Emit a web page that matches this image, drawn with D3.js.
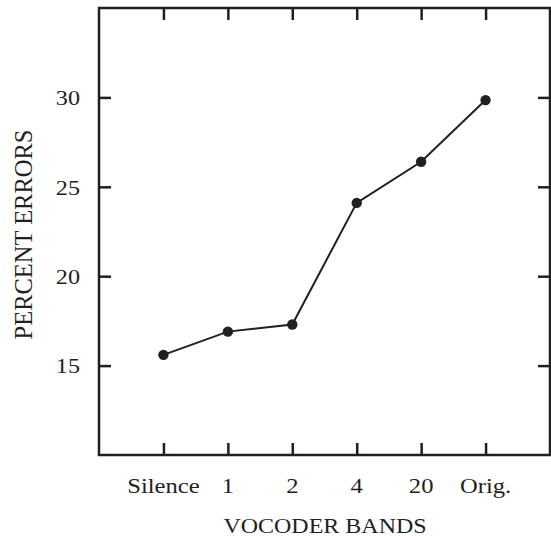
<!DOCTYPE html>
<html>
<head>
<meta charset="utf-8">
<script src="https://cdn.jsdelivr.net/npm/d3@7"></script>
<style>
  body { margin: 0; background: #fff; }
  text { font-family: "Liberation Serif", "Times New Roman", serif; fill: #231f20; }
</style>
</head>
<body>
<script>
const w = 551
const h = 540
const margin = {top: 8, right: 1, bottom: 85, left: 99}

const bands = ['Silence', '1', '2', '4', '20', 'Orig.']
const errors = [15.6, 16.9, 17.3, 24.1, 26.4, 29.85]
const yTicks = [15, 20, 25, 30]

const ink = '#231f20'

const svg = d3.select('body')
    .append('svg')
    .attr('width', w)
    .attr('height', h)

const xScale = d3.scalePoint()
    .domain(bands)
    .range([margin.left, w - margin.right])
    .padding(1)

const yScale = d3.scaleLinear()
    .domain([10, 35])
    .range([h - margin.bottom, margin.top])

// ticks point inward on all four sides
const tickLen = 12

const xAxisBottom = d3.axisTop(xScale).tickSize(tickLen).tickFormat('')
const xAxisTop = d3.axisBottom(xScale).tickSize(tickLen).tickFormat('')
const yAxisLeft = d3.axisRight(yScale).tickValues(yTicks).tickSize(tickLen).tickFormat('')
const yAxisRight = d3.axisLeft(yScale).tickValues(yTicks).tickSize(tickLen).tickFormat('')

function styleAxis (g) {
    g.select('.domain').remove()
    g.selectAll('.tick line').attr('stroke', ink).attr('stroke-width', 2.5)
}

svg.append('g').attr('transform', `translate(0,${h - margin.bottom})`).call(xAxisBottom).call(styleAxis)
svg.append('g').attr('transform', `translate(0,${margin.top})`).call(xAxisTop).call(styleAxis)
svg.append('g').attr('transform', `translate(${margin.left},0)`).call(yAxisLeft).call(styleAxis)
svg.append('g').attr('transform', `translate(${w - margin.right},0)`).call(yAxisRight).call(styleAxis)

// frame
svg.append('rect')
    .attr('x', margin.left)
    .attr('y', margin.top)
    .attr('width', w - margin.right - margin.left)
    .attr('height', h - margin.bottom - margin.top)
    .attr('fill', 'none')
    .attr('stroke', ink)
    .attr('stroke-width', 2.5)

// tick labels (the source type is a little wide, so stretch horizontally)
svg.selectAll('text.xlab')
    .data(bands)
    .enter()
    .append('text')
    .attr('class', 'xlab')
    .attr('transform', function (d) { return `translate(${xScale(d)},${h - margin.bottom + 38}) scale(1.12,1)` })
    .attr('text-anchor', 'middle')
    .attr('font-size', 22)
    .text(function (d) { return d })

svg.selectAll('text.ylab')
    .data(yTicks)
    .enter()
    .append('text')
    .attr('class', 'ylab')
    .attr('transform', function (d) { return `translate(${margin.left - 19},${yScale(d)}) scale(1.1,1)` })
    .attr('dy', '0.35em')
    .attr('text-anchor', 'end')
    .attr('font-size', 22)
    .text(function (d) { return d })

// axis titles
svg.append('text')
    .attr('transform', `translate(${(margin.left + w - margin.right) / 2 + 0.5},533) scale(1.2,1)`)
    .attr('text-anchor', 'middle')
    .attr('font-size', 20)
    .text('VOCODER BANDS')

svg.append('text')
    .attr('transform', `translate(32,${(margin.top + h - margin.bottom) / 2 + 3}) rotate(-90)`)
    .attr('text-anchor', 'middle')
    .attr('font-size', 24.5)
    .text('PERCENT ERRORS')

// series
const lineFun = d3.line()
    .x(function (d, i) { return xScale(bands[i]) })
    .y(function (d) { return yScale(d) })

svg.append('path')
    .attr('d', lineFun(errors))
    .attr('fill', 'none')
    .attr('stroke', ink)
    .attr('stroke-width', 2)

svg.selectAll('circle')
    .data(errors)
    .enter()
    .append('circle')
    .attr('cx', function (d, i) { return xScale(bands[i]) })
    .attr('cy', function (d) { return yScale(d) })
    .attr('r', 5.2)
    .attr('fill', ink)
</script>
</body>
</html>
